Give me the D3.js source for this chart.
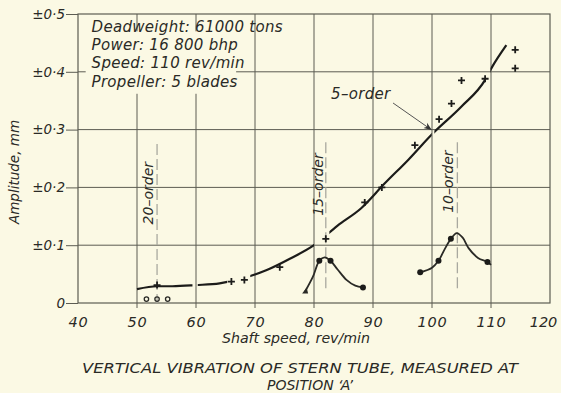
<!DOCTYPE html>
<html><head><meta charset="utf-8">
<script src="https://cdn.jsdelivr.net/npm/d3@7"></script>
<style>
html,body{margin:0;padding:0;background:#fbf9e4;}
svg{display:block;}
text{font-family:"DejaVu Sans",sans-serif;font-style:italic;fill:#2a2a26;}
</style></head>
<body>
<svg id="c" width="561" height="393"></svg>
<script>
// ---- data ----
const xTicks = [40,50,60,70,80,90,100,110,120];
const yTicks = [0,0.1,0.2,0.3,0.4,0.5];
const yTickLabels = ["0","±0·1","±0·2","±0·3","±0·4","±0·5"];
const infoLines = ["Deadweight: 61000 tons","Power: 16 800 bhp","Speed: 110 rev/min","Propeller: 5 blades"];

// faired 5-order / 20-order curve
const curveSpeed = [50,53.4,56,60,64,68,72,76,80,84,88,92,96,100,105,109,110,112.6];
const curveAmp   = [0.024,0.029,0.029,0.031,0.034,0.043,0.057,0.077,0.100,0.134,0.164,0.207,0.248,0.292,0.340,0.386,0.405,0.446];
const curveGaps  = [[59.4,60.3],[65.3,69.2],[80.0,82.6],[99.95,100.4],[109.1,109.9]];

// measured points (+)
const crossSpeed = [53.4,66.0,68.2,74.2,82.0,88.6,91.5,97.1,101.2,103.3,105.0,109.0,114.1,114.1];
const crossAmp   = [0.031,0.037,0.040,0.062,0.111,0.174,0.200,0.273,0.318,0.345,0.385,0.388,0.438,0.406];

// open circles
const circleSpeed = [51.6,53.4,55.2];
const circleAmp   = [0.005,0.005,0.005];

// 15-order resonance
const p15Speed = [78.5,79.8,80.9,81.8,82.8,84.0,85.5,87.0,88.3];
const p15Amp   = [0.020,0.045,0.073,0.079,0.073,0.058,0.040,0.030,0.027];
const dot15Speed = [80.9,82.8,88.3];
const dot15Amp   = [0.073,0.073,0.027];

// 10-order resonance
const p10Speed = [98.0,100.0,101.1,102.2,103.2,104.2,105.2,106.2,107.8,109.4,110.0];
const p10Amp   = [0.053,0.061,0.073,0.094,0.111,0.121,0.113,0.095,0.078,0.071,0.066];
const dot10Speed = [98.0,101.1,103.2,109.4];
const dot10Amp   = [0.053,0.073,0.111,0.071];

// order lines
const orderNames = ["20–order","15–order","10–order"];
const orderSpeed = [53.4,82.0,104.3];
const orderTop   = [0.275,0.278,0.278];
const orderBot   = [0.0,0.02,0.02];
const orderLabelSpeed = [51.9,80.6,102.7];
const orderLabelAmp   = [0.19,0.205,0.21];

// ---- chart ----
const svg = d3.select("#c");
const W=561,H=393, bg="#fbf9e4";
svg.append("rect").attr("width",W).attr("height",H).attr("fill",bg);
const x = d3.scaleLinear().domain([40,120]).range([78,550]);
const y = d3.scaleLinear().domain([0,0.5]).range([303,14]);
const gridCol="#5c5c52";

// gridlines
const g = svg.append("g");
g.selectAll("line.v").data(xTicks.filter(d=>d>40&&d<120)).join("line")
  .attr("x1",d=>x(d)).attr("x2",d=>x(d)).attr("y1",y(0)+5).attr("y2",y(0.5))
  .attr("stroke",gridCol).attr("stroke-width",1);
g.selectAll("line.h").data(yTicks.filter(d=>d>0&&d<0.5)).join("line")
  .attr("x1",x(40)).attr("x2",x(120)).attr("y1",d=>y(d)).attr("y2",d=>y(d))
  .attr("stroke",gridCol).attr("stroke-width",1);
g.append("rect").attr("x",x(40)).attr("y",y(0.5)).attr("width",x(120)-x(40)).attr("height",y(0)-y(0.5))
  .attr("fill","none").attr("stroke",gridCol).attr("stroke-width",1.2);

// info box background hides grid
svg.append("rect").attr("x",x(41.3)).attr("y",y(0.47)).attr("width",x(66.8)-x(41.3)).attr("height",y(0.362)-y(0.47))
  .attr("fill",bg);
svg.selectAll("text.info").data(infoLines).join("text").attr("class","info")
  .attr("x",x(42.3)).attr("y",(d,i)=>32+i*18.2).attr("font-size",15).attr("letter-spacing",0.3).text(d=>d);

// axes
const yAxis = d3.axisLeft(y).tickValues(yTicks).tickFormat((d,i)=>yTickLabels[i]).tickSize(12).tickPadding(1);
const ya = svg.append("g").attr("transform",`translate(${x(40)},0)`).call(yAxis);
ya.select(".domain").remove();
ya.selectAll("line").attr("stroke",gridCol);
ya.selectAll("text").attr("font-size",13.5).attr("font-family","DejaVu Sans").attr("font-style","italic").attr("fill","#3a3a34");

const xAxis = d3.axisBottom(x).tickValues(xTicks).tickSize(0).tickPadding(14);
const xa = svg.append("g").attr("transform",`translate(0,${y(0)})`).call(xAxis);
xa.select(".domain").remove();
xa.selectAll("text").attr("font-size",14.5).attr("font-family","DejaVu Sans").attr("font-style","italic")
  .attr("letter-spacing",d=>d===120?0:0.8)
  .attr("dx",d=>d===120?-7:0)
  .attr("fill",d=>(d===40||d===120)?"#9a9a90":"#3a3a34");

// axis titles
svg.append("text").attr("transform",`translate(19,172) rotate(-90)`)
  .attr("text-anchor","middle").attr("font-size",13.5).text("Amplitude, mm");
svg.append("text").attr("x",296).attr("y",343).attr("text-anchor","middle").attr("font-size",14.2).text("Shaft speed, rev/min");
svg.append("text").attr("x",300).attr("y",373).attr("text-anchor","middle").attr("font-size",14)
  .attr("textLength",436).attr("lengthAdjust","spacingAndGlyphs").text("VERTICAL VIBRATION OF STERN TUBE, MEASURED AT");
svg.append("text").attr("x",310).attr("y",390).attr("text-anchor","middle").attr("font-size",14).text("POSITION ‘A’");

// order lines
const ordCol="#a9a9a0";
orderNames.forEach((n,i)=>{
  svg.append("line").attr("x1",x(orderSpeed[i])).attr("x2",x(orderSpeed[i]))
    .attr("y1",y(orderTop[i])).attr("y2",y(orderBot[i]))
    .attr("stroke",ordCol).attr("stroke-width",1.3).attr("stroke-dasharray","11,4");
  svg.append("text").attr("transform",`translate(${x(orderLabelSpeed[i])},${y(orderLabelAmp[i])}) rotate(-90)`)
    .attr("text-anchor","middle").attr("dominant-baseline","central").attr("font-size",14)
    .attr("fill","#55554c").text(n);
});

// main curve with gaps
const defs = svg.append("defs");
const clip = defs.append("clipPath").attr("id","mainclip");
let visible=[]; let s=40;
curveGaps.forEach(gp=>{visible.push([s,gp[0]]); s=gp[1];}); visible.push([s,120]);
clip.selectAll("rect").data(visible).join("rect")
  .attr("x",d=>x(d[0])).attr("width",d=>x(d[1])-x(d[0])).attr("y",0).attr("height",H);
const line = d3.line().x(d=>x(d[0])).y(d=>y(d[1])).curve(d3.curveMonotoneX);
svg.append("path").attr("d",line(curveSpeed.map((v,i)=>[v,curveAmp[i]])))
  .attr("fill","none").attr("stroke","#1c1c1a").attr("stroke-width",2.2).attr("clip-path","url(#mainclip)");

const line2 = d3.line().x(d=>x(d[0])).y(d=>y(d[1])).curve(d3.curveCatmullRom);
svg.append("path").attr("d",line2(p15Speed.map((v,i)=>[v,p15Amp[i]])))
  .attr("fill","none").attr("stroke","#2a2a26").attr("stroke-width",1.8);
svg.append("path").attr("d",line2(p10Speed.map((v,i)=>[v,p10Amp[i]])))
  .attr("fill","none").attr("stroke","#2a2a26").attr("stroke-width",1.8);

// start marker of 15-order curve
const tx=x(p15Speed[0]), ty=y(p15Amp[0]);
svg.append("path").attr("d",`M${tx-3},${ty+2}L${tx+3},${ty+2}L${tx+1.5},${ty-4}Z`).attr("fill","#2a2a26");

// crosses
svg.selectAll("path.cross").data(crossSpeed.map((v,i)=>[v,crossAmp[i]])).join("path")
  .attr("d",d=>{const cx=x(d[0]),cy=y(d[1]);return `M${cx-3.5},${cy}H${cx+3.5}M${cx},${cy-3.5}V${cy+3.5}`;})
  .attr("stroke","#1c1c1a").attr("stroke-width",1.8);

// dots
const dots = dot15Speed.map((v,i)=>[v,dot15Amp[i]]).concat(dot10Speed.map((v,i)=>[v,dot10Amp[i]]));
svg.selectAll("circle.dot").data(dots).join("circle")
  .attr("cx",d=>x(d[0])).attr("cy",d=>y(d[1])).attr("r",3).attr("fill","#1c1c1a");

// open circles
svg.selectAll("circle.open").data(circleSpeed.map((v,i)=>[v,circleAmp[i]])).join("circle")
  .attr("cx",d=>x(d[0])).attr("cy",d=>y(d[1])-1).attr("r",2.2).attr("fill","none")
  .attr("stroke","#2a2a26").attr("stroke-width",1.3);

// 5-order label + arrow
svg.append("text").attr("x",x(82.9)).attr("y",y(0.353)).attr("font-size",15).attr("letter-spacing",0.3).text("5–order");
defs.append("marker").attr("id","arr").attr("viewBox","0 0 10 10").attr("refX",9).attr("refY",5)
  .attr("markerWidth",8).attr("markerHeight",8).attr("orient","auto")
  .append("path").attr("d","M0,1L10,5L0,9L3,5Z").attr("fill","#333");
svg.append("line").attr("x1",x(93.4)).attr("y1",y(0.346)).attr("x2",x(99.85)).attr("y2",y(0.300))
  .attr("stroke","#555").attr("stroke-width",1).attr("marker-end","url(#arr)");
</script>
</body></html>
